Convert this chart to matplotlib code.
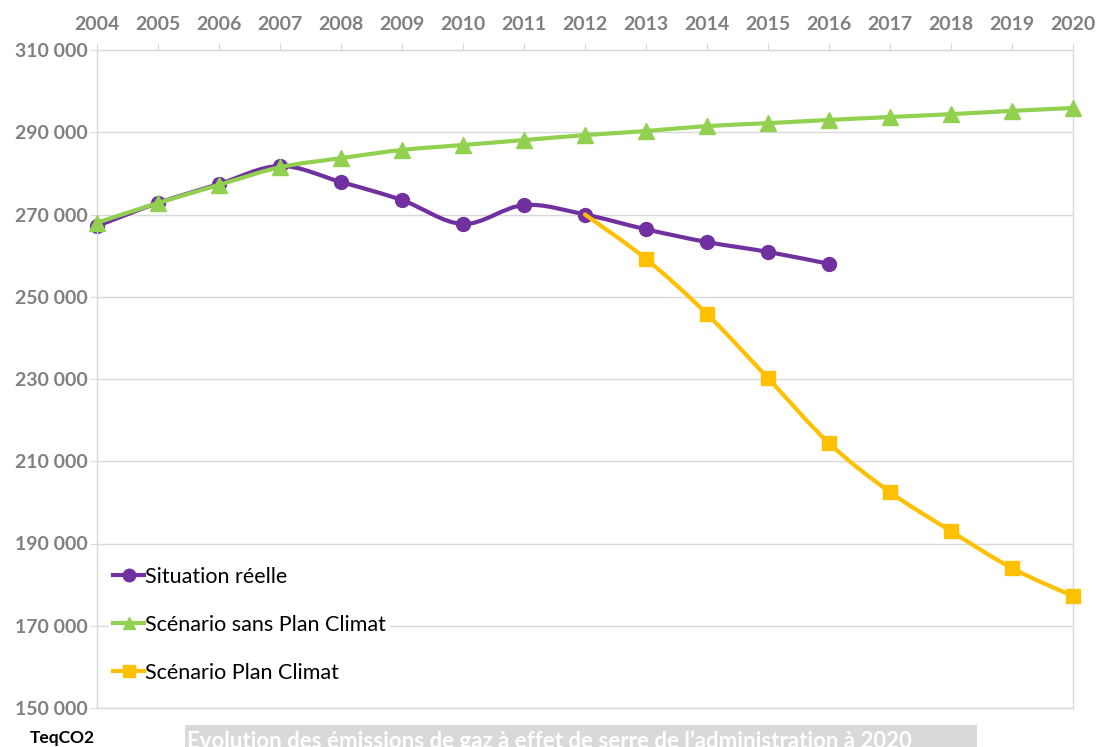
import numpy as np
import matplotlib.pyplot as plt
from matplotlib.path import Path
from matplotlib.patches import PathPatch, Rectangle
from matplotlib.lines import Line2D
from matplotlib.ticker import FuncFormatter

plt.rcParams['font.family'] = ['Lato', 'DejaVu Sans']

years = list(range(2004, 2021))

# Situation réelle (2004-2016)
reel_years = years[:13]
reel = [267200, 272800, 277400, 281800, 277900, 273500, 267700,
        272300, 270000, 266400, 263300, 260900, 258000]

# Scénario sans Plan Climat (2004-2020)
sans_plan = [268000, 272800, 277200, 281500, 283700, 285700, 286900,
             288100, 289300, 290300, 291500, 292200, 293000, 293700,
             294400, 295200, 295900]

# Scénario Plan Climat (2012-2020)
plan_years = years[8:]
plan = [270000, 259200, 245800, 230200, 214400, 202500, 193000, 184000, 177200]

y_ticks = list(range(150000, 310001, 20000))

purple = '#7030A0'
green = '#92D050'
yellow = '#FFC000'
gray_txt = '#808080'
grid_c = '#D9D9D9'


def smooth_path(xs, ys):
    # Excel-like smoothed line: cubic Bezier segments (Catmull-Rom tangents)
    pts = np.column_stack([xs, ys]).astype(float)
    n = len(pts)
    verts = [pts[0]]
    codes = [Path.MOVETO]
    for i in range(n - 1):
        p0 = pts[i - 1] if i > 0 else pts[i]
        p1 = pts[i]
        p2 = pts[i + 1]
        p3 = pts[i + 2] if i + 2 < n else pts[i + 1]
        c1 = p1 + (p2 - p0) / 6.0
        c2 = p2 - (p3 - p1) / 6.0
        verts += [c1, c2, p2]
        codes += [Path.CURVE4] * 3
    return Path(verts, codes)


fig = plt.figure(figsize=(10.96, 7.47), dpi=100)
ax = fig.add_axes([97 / 1096, 1 - 708 / 747, (1073 - 97) / 1096, (708 - 50) / 747])

series = [
    (reel_years, reel, purple, 'o', 10, 2, 0),
    (plan_years, plan, yellow, 's', 10, 3, 1),
    (years, sans_plan, green, '^', 11, 4, 0),
]
for xs, ys, col, mk, ms, z, start in series:
    ax.add_patch(PathPatch(smooth_path(xs, ys), fill=False, edgecolor=col,
                           lw=3, zorder=z, capstyle='round', joinstyle='round'))
    ax.plot(xs[start:], ys[start:], ls='none', marker=mk, ms=ms, color=col,
            mec=col, zorder=z + 0.5, clip_on=False)

ax.set_xlim(2004, 2020)
ax.set_ylim(150000, 310000)
ax.set_yticks(y_ticks)
ax.yaxis.set_major_formatter(FuncFormatter(lambda v, p: f"{int(v):,}".replace(',', ' ')))
ax.set_xticks(years)
ax.xaxis.tick_top()
ax.tick_params(axis='x', length=5, color=grid_c, pad=7, labelsize=14,
               labelcolor=gray_txt)
ax.tick_params(axis='y', length=5, color=grid_c, pad=2, labelsize=14,
               labelcolor=gray_txt)
for lbl in ax.get_xticklabels() + ax.get_yticklabels():
    lbl.set_fontweight('bold')
ax.grid(axis='y', color=grid_c, lw=1)
ax.set_axisbelow(True)
for s in ax.spines.values():
    s.set_color(grid_c)
    s.set_linewidth(1)

handles = [
    Line2D([], [], color=purple, lw=3, marker='o', ms=9),
    Line2D([], [], color=green, lw=3, marker='^', ms=9),
    Line2D([], [], color=yellow, lw=3, marker='s', ms=9),
]
labels = ['Situation réelle', 'Scénario sans Plan Climat', 'Scénario Plan Climat']
leg = ax.legend(handles, labels, loc='lower left', bbox_to_anchor=(0.012, 0.032),
                frameon=True, facecolor='white', edgecolor='none', framealpha=1,
                fontsize=15.5, handlelength=1.45, handletextpad=0.05,
                labelspacing=1.3, borderpad=0.2, borderaxespad=0.0)

# bottom annotations
fig.text(30 / 1096, 1 - 738 / 747, 'TeqCO2', fontsize=12.5, fontweight='bold',
         color='black', va='center', ha='left')
fig.patches.append(Rectangle((185 / 1096, 0), (977 - 185) / 1096, 22 / 747,
                             transform=fig.transFigure, facecolor='#D9D9D9',
                             edgecolor='none', zorder=0))
fig.text(187 / 1096, 1 - 741 / 747,
         'Evolution des émissions de gaz à effet de serre de l’administration à 2020',
         fontsize=16, fontweight='bold', color='white', va='center', ha='left')

fig.savefig('out.png', dpi=100)
